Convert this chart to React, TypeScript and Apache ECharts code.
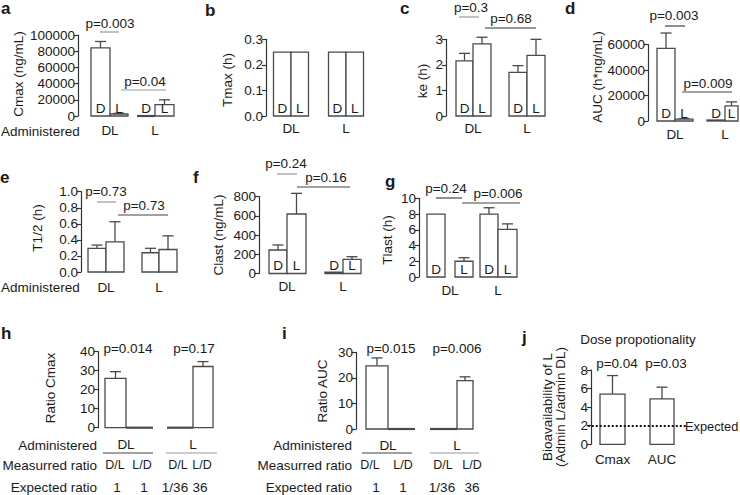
import React, { useEffect, useRef } from "react";
import * as echarts from "echarts";

const FONT = '"Liberation Sans", Arial, Helvetica, sans-serif';
const INK = "#1a1a1a";
const EDGE = "#4a4a4a";

// ---------------- data ----------------
const groups = ["DL", "L"];

// a  Cmax (ng/mL)
const cmaxD = [84000, 1000];
const cmaxDErr = [8000, 0];
const cmaxL = [2500, 14000];
const cmaxLErr = [800, 6000];
const pA = ["p=0.003", "p=0.04"];

// b  Tmax (h)
const tmaxD = [0.25, 0.25];
const tmaxL = [0.25, 0.25];

// c  ke (h)
const keD = [2.16, 1.71];
const keDErr = [0.29, 0.26];
const keL = [2.82, 2.37];
const keLErr = [0.26, 0.63];
const pC = ["p=0.3", "p=0.68"];

// d  AUC (h*ng/mL)
const aucD = [57000, 800];
const aucDErr = [12000, 0];
const aucL = [1500, 11800];
const aucLErr = [400, 3200];
const pD = ["p=0.003", "p=0.009"];

// e  T1/2 (h)
const t12D = [0.295, 0.24];
const t12DErr = [0.04, 0.055];
const t12L = [0.376, 0.28];
const t12LErr = [0.25, 0.17];
const pE = ["p=0.73", "p=0.73"];

// f  Clast (ng/mL)
const clastD = [245, 15];
const clastDErr = [52, 0];
const clastL = [620, 148];
const clastLErr = [215, 27];
const pF = ["p=0.24", "p=0.16"];

// g  Tlast (h)
const tlastD = [8, 8];
const tlastDErr = [0, 0.8];
const tlastL = [2, 6.05];
const tlastLErr = [0.45, 0.7];
const pG = ["p=0.24", "p=0.006"];

// h  Ratio Cmax
const ratioCmaxDL = [26, 0];
const ratioCmaxDLErr = [3.5, 0];
const ratioCmaxLD = [0, 32.2];
const ratioCmaxLDErr = [0, 2.6];
const pH = ["p=0.014", "p=0.17"];

// i  Ratio AUC
const ratioAucDL = [24.7, 0];
const ratioAucDLErr = [3.1, 0];
const ratioAucLD = [0, 18.9];
const ratioAucLDErr = [0, 1.5];
const pI = ["p=0.015", "p=0.006"];

// ratio table
const measuredRatio = ["D/L", "L/D", "D/L", "L/D"];
const expectedRatio = ["1", "1", "1/36", "36"];

// j  Bioavailability
const bioCats = ["Cmax", "AUC"];
const bioValues = [5.4, 4.9];
const bioErr = [2.0, 1.25];
const bioExpected = 2;
const bioExpectedLabel = "Expected";
const pJ = ["p=0.04", "p=0.03"];

// ---------------- layout / style ----------------
type Ser = { name: string; letter: string | null; values: number[]; errors: number[]; box: number[][] };
type Panel = {
  left: number; top: number; width: number; height: number; axisX: number;
  min: number; max: number; interval: number; decimals: number;
  cats: string[]; labelMargin: number; series: Ser[];
};

const panels: Panel[] = [
  { // a
    left: 87.5, top: 35, width: 90, height: 81, axisX: 78, min: 0, max: 100000, interval: 20000, decimals: 0,
    cats: groups, labelMargin: 7.5,
    series: [
      { name: "D", letter: "D", values: cmaxD, errors: cmaxDErr, box: [[-19, 0], [-18, 0]] },
      { name: "L", letter: "L", values: cmaxL, errors: cmaxLErr, box: [[0, 18], [0, 19]] },
    ],
  },
  { // b
    left: 263.5, top: 39.3, width: 110, height: 76.7, axisX: 266, min: 0, max: 0.3, interval: 0.1, decimals: 1,
    cats: groups, labelMargin: 5,
    series: [
      { name: "D", letter: "D", values: tmaxD, errors: [0, 0], box: [[-17.5, 0], [-17.5, 0]] },
      { name: "L", letter: "L", values: tmaxL, errors: [0, 0], box: [[0, 17.5], [0, 17.5]] },
    ],
  },
  { // c
    left: 446, top: 39.3, width: 108, height: 76.7, axisX: 446, min: 0, max: 3, interval: 1, decimals: 0,
    cats: groups, labelMargin: 5,
    series: [
      { name: "D", letter: "D", values: keD, errors: keDErr, box: [[-17, 0], [-18, 0]] },
      { name: "L", letter: "L", values: keL, errors: keLErr, box: [[0, 18], [0, 18]] },
    ],
  },
  { // d
    left: 650, top: 44.5, width: 100, height: 76.5, axisX: 648, min: 0, max: 60000, interval: 20000, decimals: 0,
    cats: groups, labelMargin: 6,
    series: [
      { name: "D", letter: "D", values: aucD, errors: aucDErr, box: [[-18, 0], [-18, 0]] },
      { name: "L", letter: "L", values: aucL, errors: aucLErr, box: [[0, 18], [0, 13]] },
    ],
  },
  { // e
    left: 79.5, top: 191.7, width: 106, height: 80.3, axisX: 81, min: 0, max: 1, interval: 0.2, decimals: 1,
    cats: groups, labelMargin: 8,
    series: [
      { name: "D", letter: null, values: t12D, errors: t12DErr, box: [[-18, 0], [-17, 0]] },
      { name: "L", letter: null, values: t12L, errors: t12LErr, box: [[0, 18], [0, 18]] },
    ],
  },
  { // f
    left: 259, top: 196.7, width: 112, height: 76.8, axisX: 259, min: 0, max: 800, interval: 200, decimals: 0,
    cats: groups, labelMargin: 6,
    series: [
      { name: "D", letter: "D", values: clastD, errors: clastDErr, box: [[-18, 0], [-18, 0]] },
      { name: "L", letter: "L", values: clastL, errors: clastLErr, box: [[0, 19], [0, 18]] },
    ],
  },
  { // g
    left: 426, top: 198.3, width: 96, height: 78.7, axisX: 419, min: 0, max: 10, interval: 2, decimals: 0,
    cats: groups, labelMargin: 6,
    series: [
      { name: "D", letter: "D", values: tlastD, errors: tlastDErr, box: [[-23, -5], [-18, 0]] },
      { name: "L", letter: "L", values: tlastL, errors: tlastLErr, box: [[5, 23], [0, 19]] },
    ],
  },
  { // h
    left: 92.5, top: 351.7, width: 134, height: 76, axisX: 98, min: 0, max: 40, interval: 10, decimals: 0,
    cats: groups, labelMargin: 10,
    series: [
      { name: "D/L", letter: null, values: ratioCmaxDL, errors: ratioCmaxDLErr, box: [[-21, 0], [-26, 0]] },
      { name: "L/D", letter: null, values: ratioCmaxLD, errors: ratioCmaxLDErr, box: [[0, 27], [0, 20]] },
    ],
  },
  { // i
    left: 353.5, top: 352.3, width: 138, height: 76.7, axisX: 356, min: 0, max: 30, interval: 10, decimals: 0,
    cats: groups, labelMargin: 9,
    series: [
      { name: "D/L", letter: null, values: ratioAucDL, errors: ratioAucDLErr, box: [[-22, 0], [-27, 0]] },
      { name: "L/D", letter: null, values: ratioAucLD, errors: ratioAucLDErr, box: [[0, 27], [0, 16]] },
    ],
  },
  { // j
    left: 587.75, top: 370, width: 99, height: 74.3, axisX: 591, min: 0, max: 8, interval: 2, decimals: 0,
    cats: bioCats, labelMargin: 8,
    series: [
      { name: "ratio", letter: null, values: bioValues, errors: bioErr, box: [[-12.5, 12.5], [-12, 12]] },
    ],
  },
];

const font = (size = 13.5, weight = "normal") => `${weight} ${size}px ${FONT}`;

function txt(text: string, x: number, y: number, opt: { align?: string; rot?: number; size?: number; weight?: string } = {}) {
  const align = opt.align || "center";
  return {
    type: "text",
    x, y,
    rotation: opt.rot || 0,
    silent: true,
    style: {
      text,
      font: font(opt.size || 13.5, opt.weight || "normal"),
      fill: INK,
      align, verticalAlign: "middle",
      textAlign: align, textVerticalAlign: "middle",
    },
  };
}
function hline(x1: number, y: number, x2: number, color: string) {
  return { type: "line", silent: true, shape: { x1, y1: y, x2, y2: y }, style: { stroke: color, lineWidth: 1.2 } };
}
const ROT = Math.PI / 2;

function makeRender(s: Ser) {
  return (_params: any, api: any) => {
    const k = api.value(0);
    const v = api.value(1);
    const e = api.value(2);
    const top = api.coord([k, v]);
    const base = api.coord([k, 0]);
    const [b0, b1] = s.box[k];
    const x0 = top[0] + b0;
    const x1 = top[0] + b1;
    const mx = (x0 + x1) / 2;
    const children: any[] = [];
    if (e > 0) {
      const et = api.coord([k, v + e]);
      children.push({ type: "line", shape: { x1: mx, y1: top[1], x2: mx, y2: et[1] }, style: { stroke: EDGE, lineWidth: 1.3 } });
      children.push({ type: "line", shape: { x1: mx - 5.5, y1: et[1], x2: mx + 5.5, y2: et[1] }, style: { stroke: EDGE, lineWidth: 1.3 } });
    }
    const h = base[1] - top[1];
    if (h < 1) {
      children.push({ type: "line", shape: { x1: x0, y1: base[1], x2: x1, y2: base[1] }, style: { stroke: EDGE, lineWidth: 2.2 } });
    } else {
      children.push({ type: "rect", shape: { x: x0, y: top[1], width: x1 - x0, height: h }, style: { fill: "#fff", stroke: EDGE, lineWidth: 1.3 } });
    }
    if (s.letter) {
      children.push({
        type: "text", x: mx, y: base[1] - 8,
        style: { text: s.letter, font: font(), fill: INK, align: "center", verticalAlign: "middle", textAlign: "center", textVerticalAlign: "middle" },
      });
    }
    return { type: "group", children };
  };
}

function buildOption() {
  const grid: any[] = [];
  const xAxis: any[] = [];
  const yAxis: any[] = [];
  const series: any[] = [];
  panels.forEach((p, i) => {
    grid.push({ left: p.left, top: p.top, width: p.width, height: p.height, containLabel: false, outerBoundsMode: "none" });
    xAxis.push({
      gridIndex: i, type: "category", data: p.cats,
      axisLine: { show: false }, axisTick: { show: false }, splitLine: { show: false },
      axisLabel: { show: true, interval: 0, margin: p.labelMargin, fontSize: 13.5, fontFamily: FONT, color: INK },
    });
    yAxis.push({
      gridIndex: i, type: "value", min: p.min, max: p.max, interval: p.interval,
      offset: p.left - p.axisX,
      axisLine: { show: true, lineStyle: { color: "#333", width: 1.2 } },
      axisTick: { show: true, length: 4, lineStyle: { color: "#333", width: 1.2 } },
      splitLine: { show: false },
      axisLabel: {
        margin: 3, fontSize: 13.5, fontFamily: FONT, color: INK,
        formatter: (val: number) => val.toFixed(p.decimals),
      },
    });
    p.series.forEach((s) => {
      series.push({
        type: "custom", name: s.name, xAxisIndex: i, yAxisIndex: i, clip: false, z: 3,
        data: s.values.map((v, k) => [k, v, s.errors[k]]),
        encode: { x: 0, y: 1 },
        renderItem: makeRender(s),
      });
    });
  });

  // expected line for j
  series.push({
    type: "line", xAxisIndex: 9, yAxisIndex: 9, data: [], silent: true,
    markLine: {
      silent: true, symbol: "none", animation: false,
      lineStyle: { type: "dotted", color: "#111", width: 2 },
      label: { show: false },
      data: [{ yAxis: bioExpected }],
    },
  });

  const g: any[] = [];
  // panel letters
  const letters: [string, number, number][] = [
    ["a", 1, 8], ["b", 205, 10], ["c", 400, 8], ["d", 565, 8], ["e", 0, 177],
    ["f", 193, 177], ["g", 385, 181], ["h", 1, 333], ["i", 282, 333], ["j", 522, 337],
  ];
  letters.forEach(([t, x, y]) => g.push(txt(t, x, y, { align: "left", size: 17, weight: "bold" })));

  // row 1
  g.push(txt("Administered", 1, 131, { align: "left" }));
  g.push(txt("Cmax (ng/mL)", 18, 74, { rot: ROT }));
  g.push(txt("Tmax (h)", 227, 80, { rot: ROT }));
  g.push(txt("ke (h)", 422, 81, { rot: ROT }));
  g.push(txt("AUC (h*ng/mL)", 597, 77, { rot: ROT }));
  g.push(txt(pA[0], 110, 23), hline(100, 32, 119, "#999"));
  g.push(txt(pA[1], 145, 81), hline(121, 90, 166, "#999"));
  g.push(txt(pC[0], 471, 7), hline(459, 17, 479, "#999"));
  g.push(txt(pC[1], 511, 18), hline(485, 28, 536, "#333"));
  g.push(txt(pD[0], 674, 15), hline(665, 26, 685, "#444"));
  g.push(txt(pD[1], 708, 83), hline(682, 92, 732, "#444"));

  // row 2
  g.push(txt("Administered", 1, 287, { align: "left" }));
  g.push(txt("T1/2 (h)", 37, 228, { rot: ROT }));
  g.push(txt("Clast (ng/mL)", 218, 235, { rot: ROT }));
  g.push(txt("Tlast (h)", 387, 240, { rot: ROT }));
  g.push(txt(pE[0], 106, 191), hline(97, 202, 116, "#999"));
  g.push(txt(pE[1], 144, 205), hline(118, 215, 168, "#444"));
  g.push(txt(pF[0], 286, 163), hline(277, 174, 297, "#999"));
  g.push(txt(pF[1], 326, 177), hline(297, 187, 350, "#444"));
  g.push(txt(pG[0], 446, 188), hline(436, 198, 462, "#444"));
  g.push(txt(pG[1], 498, 193), hline(462, 203, 520, "#444"));

  // row 3 : h
  g.push(txt("Ratio Cmax", 50, 388, { rot: ROT }));
  g.push(txt(pH[0], 128, 348), txt(pH[1], 194, 348));
  g.push(txt("Administered", 97, 445, { align: "right" }));
  g.push(hline(103, 453, 153, "#444"), hline(166, 453, 217, "#999"));
  g.push(txt("Measurred ratio", 97, 465, { align: "right" }));
  g.push(txt("Expected ratio", 97, 487, { align: "right" }));
  const hMx = [115, 142, 178, 202];
  const hEx = [117, 144, 175, 200];
  measuredRatio.forEach((t, k) => g.push(txt(t, hMx[k], 465, { size: 12.5 })));
  expectedRatio.forEach((t, k) => g.push(txt(t, hEx[k], 487)));

  // row 3 : i
  g.push(txt("Ratio AUC", 322, 391, { rot: ROT }));
  g.push(txt(pI[0], 391, 348), txt(pI[1], 457, 348));
  g.push(txt("Administered", 352, 445, { align: "right" }));
  g.push(hline(362, 453, 412, "#444"), hline(430, 453, 479, "#999"));
  g.push(txt("Measurred ratio", 352, 465, { align: "right" }));
  g.push(txt("Expected ratio", 352, 487, { align: "right" }));
  const iMx = [370, 403, 443, 472];
  const iEx = [376, 403, 442, 472];
  measuredRatio.forEach((t, k) => g.push(txt(t, iMx[k], 465, { size: 12.5 })));
  expectedRatio.forEach((t, k) => g.push(txt(t, iEx[k], 487)));

  // row 3 : j
  g.push(txt("Dose propotionality", 638, 339));
  g.push(txt("Bioavailability of L", 547, 407, { rot: ROT }));
  g.push(txt("(Admin L/admin DL)", 560, 407, { rot: ROT }));
  g.push(txt(pJ[0], 617, 363), txt(pJ[1], 666, 363));
  g.push(txt(bioExpectedLabel, 685, 426, { align: "left", size: 12.8 }));

  return {
    animation: false,
    backgroundColor: "#ffffff",
    textStyle: { fontFamily: FONT },
    grid, xAxis, yAxis, series,
    graphic: { elements: g },
  };
}

export default function App() {
  const ref = useRef<HTMLDivElement | null>(null);
  useEffect(() => {
    document.body.style.margin = "0";
    if (!ref.current) return;
    const chart = echarts.init(ref.current, undefined, { renderer: "svg" });
    chart.setOption(buildOption() as any);
    return () => chart.dispose();
  }, []);
  return <div ref={ref} style={{ position: "absolute", left: 0, top: 0, width: 740, height: 495 }} />;
}
